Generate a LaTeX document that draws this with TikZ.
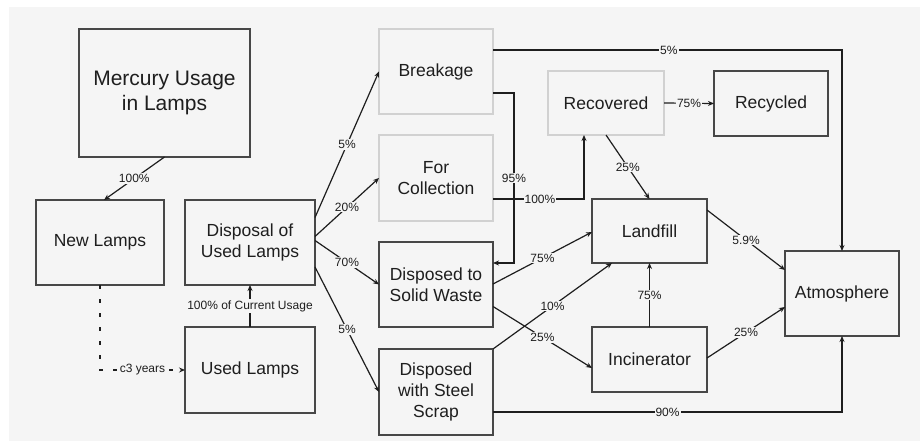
\documentclass[tikz,border=0pt]{standalone}
\usepackage{fontspec}
\setmainfont{Liberation Sans}
\usetikzlibrary{arrows.meta,calc}
\definecolor{bg}{HTML}{F5F5F5}
\definecolor{ink}{HTML}{1E1E1E}
\begin{document}
\begin{tikzpicture}[x=1pt,y=-1pt,
  box/.style={draw=black!72,line width=1.6pt,fill=bg,text=ink,align=center,
    inner sep=2pt,outer sep=0pt,font=\fontsize{17.5}{21}\selectfont},
  lightbox/.style={box,draw=black!18,line width=1.2pt},
  flow/.style={draw=ink,line width=1.2pt,-{Stealth[length=6pt,width=5pt]}},
  pct/.style={fill=bg,text=ink,inner sep=1pt,font=\fontsize{12}{12}\selectfont},
  later/.style={flow,dash pattern=on 3.5pt off 10.5pt}]
\useasboundingbox (0,0) rectangle (920,441);
\fill[bg] (9,7) rectangle (920,441);

% stages of the lamp life cycle
\node[box,minimum width=171,minimum height=128,font=\fontsize{21}{25}\selectfont]
  (merc) at (164.5,93) {Mercury Usage\\in Lamps};
\node[box,minimum width=128,minimum height=85] (newl) at (100,242.5) {New Lamps};
\node[box,minimum width=130,minimum height=85] (disp) at (250,242.5) {Disposal of\\Used Lamps};
\node[box,minimum width=130,minimum height=86] (used) at (250,370) {Used Lamps};

% disposal routes
\node[lightbox,minimum width=114,minimum height=85] (brk) at (436,71.5) {Breakage};
\node[lightbox,minimum width=114,minimum height=86] (coll) at (436,178) {For\\Collection};
\node[box,minimum width=114,minimum height=85] (solid) at (436,284.5) {Disposed to\\Solid Waste};
\node[box,minimum width=114,minimum height=86] (steel) at (436,392) {Disposed\\with Steel\\Scrap};

% end points
\node[lightbox,minimum width=116,minimum height=64] (recov) at (606,103) {Recovered};
\node[box,minimum width=114,minimum height=65] (recyc) at (771,103.5) {Recycled};
\node[box,minimum width=115,minimum height=64] (landf) at (649.5,231) {Landfill};
\node[box,minimum width=115,minimum height=65] (incin) at (649.5,359.5) {Incinerator};
\node[box,minimum width=114,minimum height=85] (atmo) at (842,293.5) {Atmosphere};

% flows
\draw[flow] (merc.south) -- node[pct]{100\%} ([xshift=4pt]newl.north);
\draw[later] (newl.south) |- node[pct,pos=0.75]{c3 years} (used.west);
\draw[flow] (used.north) -- node[pct]{100\% of Current Usage} (disp.south);

\draw[flow] ([yshift=25pt]disp.east) -- node[pct]{5\%} (brk.west);
\draw[flow] ([yshift=6pt]disp.east) -- node[pct]{20\%} (coll.west);
\draw[flow] ([yshift=2pt]disp.east) -- node[pct]{70\%} (solid.west);
\draw[flow] ([yshift=-24.5pt]disp.east) -- node[pct]{5\%} (steel.west);

\draw[flow] ([yshift=21.5pt]brk.east) -| node[pct,pos=0.252]{5\%} (atmo.north);
\draw[flow] ([yshift=-21.5pt]brk.east) -- ++(21,0) |- node[pct,pos=0.25]{95\%} ([yshift=21.5pt]solid.east);
\draw[flow] ([yshift=-21pt]coll.east) -| node[pct,pos=0.258]{100\%} ([xshift=-22pt]recov.south);

\draw[flow] (recov.east) -- node[pct]{75\%} (recyc.west);
\draw[flow] (recov.south) -- node[pct]{25\%} (landf.north);

\draw[flow] ([yshift=0.5pt]solid.east) -- node[pct]{75\%} ([yshift=-1pt]landf.west);
\draw[flow] ([yshift=-22pt]solid.east) -- node[pct]{25\%} ([yshift=-8.5pt]incin.west);
\draw[flow] (steel.north east) -- node[pct]{10\%} ([xshift=-37.5pt]landf.south);

\draw[flow] (incin.north) -- node[pct]{75\%} (landf.south);
\draw[flow] ([yshift=21pt]landf.east) -- node[pct]{5.9\%} ([yshift=23.5pt]atmo.west);
\draw[flow] ([yshift=1.5pt]incin.east) -- node[pct]{25\%} ([yshift=-13.5pt]atmo.west);
\draw[flow] ([yshift=-20pt]steel.east) -| node[pct,pos=0.25]{90\%} (atmo.south);
\end{tikzpicture}
\end{document}
